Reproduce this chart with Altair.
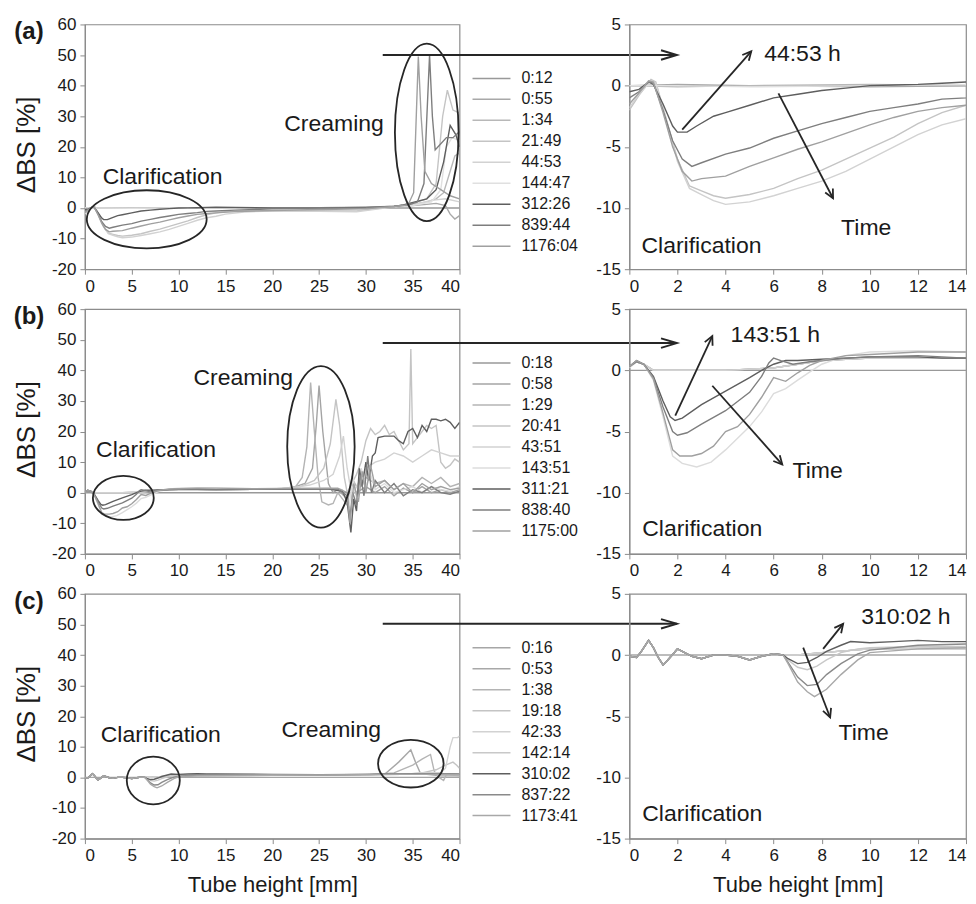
import math
import altair as alt
import pandas as pd

FONT = "Liberation Sans"
INK = "#1a1a1a"
FRAME = "#8c8c8c"
ANNOT = "#262626"

LW, LH = 375, 245
RW, RH = 337, 245
L_XDOM, L_YDOM = [0, 40], [-20, 60]
R_XDOM, R_YDOM = [0, 14], [-15, 5]
L_XTICKS = list(range(0, 41, 5))
L_YTICKS = list(range(-20, 61, 10))
R_XTICKS = list(range(0, 15, 2))
R_YTICKS = list(range(-15, 6, 5))
Y_TITLE = "ΔBS [%]"
X_TITLE = "Tube height [mm]"

# ---------------- Row (a) ----------------
A_LABELS = ["0:12", "0:55", "1:34", "21:49", "44:53", "144:47", "312:26", "839:44", "1176:04"]
A_COLORS = ["#999999", "#a8a8a8", "#b8b8b8", "#c4c4c4", "#d2d2d2", "#e0e0e0", "#5e5e5e", "#7e7e7e", "#a0a0a0"]

a_0012_x = [0, 5, 10, 20, 30, 40]
a_0012_y = [0, 0, 0, 0, 0, 0]
a_0055_x = [0, 2, 5, 10, 15, 20, 25, 30, 33, 35, 36.5, 37.5, 38.5, 39.0, 39.5, 40]
a_0055_y = [0, 0.1, 0, -0.1, 0, 0.1, 0.1, 0.2, 0.4, 0.8, 1.2, 1.5, 0.8, -2.0, -3.6, -2.5]
a_0134_x = [0, 2, 5, 10, 15, 20, 25, 30, 33, 35, 36.5, 37.5, 38.3, 39, 39.5, 40]
a_0134_y = [0, -0.1, 0, 0.1, 0, 0, 0.1, 0.3, 0.6, 1.2, 2.0, 3.0, 5.0, 12, 17, 18]
a_2149_x = [0, 0.4, 0.9, 1.1, 1.5, 2.0, 2.5, 3.0, 3.5, 4, 5, 6, 7, 8, 9, 10, 11, 12, 13, 14,
            15, 17, 20, 25, 29, 31, 33, 35, 36.5, 37.5, 38.2, 38.7, 39.3, 40]
a_2149_y = [-2.0, -0.8, 0.5, 0.3, -2.5, -6.0, -8.2, -8.6, -9.0, -9.2, -8.9, -8.4, -7.6, -6.9, -6.0,
            -5.1, -4.2, -3.1, -2.2, -1.6, -1.2, -1.0, -0.9, -0.9, -1.0, -0.3, 0.5, 1.5, 3, 8, 30, 38.5, 32, 31]
a_4453_x = [0, 0.4, 0.9, 1.1, 1.5, 2.0, 2.5, 3.0, 3.5, 4, 5, 6, 7, 8, 9, 10, 11, 12, 13, 14,
            15, 17, 20, 25, 29, 31, 33, 35, 37, 38.5, 40]
a_4453_y = [-1.8, -0.7, 0.4, 0.2, -2.5, -6.2, -8.4, -8.9, -9.4, -9.7, -9.5, -9.0, -8.4, -7.8, -7.0,
            -6.0, -5.0, -4.0, -3.2, -2.7, -2.0, -1.3, -1.0, -1.1, -1.2, -0.4, 0.4, 1.0, 2.5, 3.0, 2.0]
a_14447_x = [0, 2, 5, 10, 15, 20, 25, 30, 33, 35, 37, 38, 38.6, 39.2, 40]
a_14447_y = [0, 0, -0.1, 0, 0.1, 0, 0.1, 0.3, 0.5, 0.8, 2.0, 6.0, 20, 23, 22]
a_31226_x = [0, 0.4, 0.8, 1.0, 1.4, 1.8, 2.0, 2.4, 2.8, 3.5, 4, 5, 6, 7, 8, 9, 10, 11, 12, 13,
             14, 16, 20, 25, 30, 33, 34, 36.5, 37.5, 38.3, 39, 39.6, 40]
a_31226_y = [-0.5, -0.3, 0.3, 0.1, -1.5, -3.3, -3.8, -3.8, -3.3, -2.5, -2.2, -1.6, -1.0, -0.7, -0.4,
             -0.2, 0.0, 0.05, 0.1, 0.2, 0.3, 0.2, 0.0, 0.0, 0.2, 0.5, 1.0, 3, 6, 15, 27, 24, 20]
a_83944_x = [0, 0.4, 0.8, 1.0, 1.4, 1.8, 2.2, 2.6, 3, 4, 5, 6, 7, 8, 9, 10, 11, 12, 13, 14,
             16, 20, 25, 30, 33, 34.5, 35.5, 36.2, 36.8, 37.1, 37.4, 38, 38.6, 39.3, 40]
a_83944_y = [-1.0, -0.5, 0.3, 0.2, -2.0, -4.5, -6.0, -6.6, -6.3, -5.6, -5.1, -4.3, -3.7, -3.1, -2.6,
             -2.1, -1.8, -1.5, -1.1, -1.0, -0.7, -0.3, -0.1, 0.1, 0.6, 1.0, 2.0, 8, 50, 30, 19, 21, 23, 23, 25]
a_117604_x = [0, 0.4, 0.8, 1.0, 1.4, 1.8, 2.2, 2.6, 3, 4, 5, 6, 7, 8, 9, 10, 11, 12, 13, 14,
              16, 20, 25, 30, 33, 34.5, 35.1, 35.6, 35.9, 36.3, 37, 38, 39, 40]
a_117604_y = [-1.5, -0.6, 0.4, 0.3, -2.2, -5.0, -7.0, -7.8, -7.6, -7.4, -6.6, -5.9, -5.2, -4.6, -3.9,
              -3.2, -2.6, -2.1, -1.8, -1.6, -1.2, -0.8, -0.5, -0.3, 0.5, 1, 5, 49.5, 30, 12, 8, 6, 4, 3]

# ---------------- Row (b) ----------------
B_LABELS = ["0:18", "0:58", "1:29", "20:41", "43:51", "143:51", "311:21", "838:40", "1175:00"]
B_COLORS = ["#999999", "#a4a4a4", "#b4b4b4", "#c4c4c4", "#d2d2d2", "#dcdcdc", "#5e5e5e", "#7e7e7e", "#a0a0a0"]

b_0018_x = [0, 10, 20, 30, 40]
b_0018_y = [0, 0, 0, 0, 0]
b_0058_x = [0, 0.3, 0.6, 1, 2, 4, 6, 7, 8, 10, 14, 18, 22, 23.5, 24.3, 24.7, 25.0, 25.4, 26, 26.5,
            27, 28, 28.5, 29, 30, 31, 32, 33, 34, 35, 36, 37, 38, 39, 40]
b_0058_y = [0.3, 0.7, 0.5, 0, 0, 0, 0.2, 0.5, 0.8, 1.0, 1.0, 1.1, 1.5, 3, 8, 22, 35, 20, 3, 0,
            1, -2, 3, 0, 2, 0, 2, -1, 1.5, 0, 2, 0, 1, 0, 1]
b_0129_x = [0, 0.3, 0.6, 1, 2, 4, 6, 7, 8, 10, 14, 18, 21, 22.5, 23.2, 23.7, 24.1, 24.5, 24.9, 25.3,
            26, 26.5, 27, 27.5, 28, 28.5, 29, 30, 31, 32, 33, 34, 35, 36, 37, 38, 39, 40]
b_0129_y = [0.3, 0.7, 0.5, 0, 0, 0, 0.2, 0.5, 0.8, 1.0, 1.0, 1.1, 1.3, 2.0, 5, 15, 36, 20, 5, -3,
            -4, -3.5, 0, -2, -4, 5, 2, 5, 3, 4, 1, 3, 2, 5, 3, 5, 2, 3]
b_2041_x = [0, 0.3, 0.6, 1, 2, 4, 6, 7, 8, 10, 14, 18, 21, 23, 24.5, 25.5, 26.2, 26.8, 27.2, 27.7,
            28, 28.5, 29, 29.5, 30, 30.5, 31, 31.5, 32, 32.5, 33, 33.5, 34, 34.6, 34.8, 35.0, 35.5,
            36, 36.5, 37, 37.5, 38, 38.5, 39, 39.5, 40]
b_2041_y = [0.3, 0.7, 0.5, 0, 0, 0, 0.2, 0.5, 0.8, 1.0, 1.0, 1.1, 1.3, 2, 4, 8, 16, 30.5, 22, 5,
            0, 3, 6, 10, 17, 21, 19, 20, 22, 19, 20, 17, 14, 16, 47, 16, 18,
            20, 22, 21, 22, 10, 8, 9, 11, 10]
b_4351_x = [0, 0.3, 0.6, 1, 2, 4, 6, 7, 8, 10, 14, 18, 22, 24, 25.5, 26.5, 27.2, 27.6, 28, 28.5,
            29, 29.5, 30, 31, 32, 33, 34, 35, 36, 37, 38, 39, 40]
b_4351_y = [0.3, 0.7, 0.5, 0, 0, 0, 0.2, 0.5, 0.8, 1.0, 1.0, 1.1, 1.5, 2.5, 4, 6, 12, 18.5, 8, -1,
            2, 5, 8, 10, 11, 13, 12, 10, 12, 14, 13, 12, 12]
b_14351_x = [0, 0.3, 0.6, 1, 1.4, 1.8, 2.2, 2.8, 3.4, 4, 5, 5.5, 6, 6.5, 7, 7.6, 8, 9, 10, 12,
             14, 18, 22, 26, 27.5, 28.2, 28.6, 29, 29.5, 30, 30.5, 31, 32, 33, 34, 35, 36, 37, 38, 39, 40]
b_14351_y = [0.2, 0.7, 0.5, -0.8, -3.8, -7.0, -7.6, -7.9, -7.5, -6.5, -4.6, -3.4, -1.9, -1.5, -0.8, 0, 0.5, 1.2, 1.5, 1.6,
             1.5, 1.3, 1.4, 1.5, 1, -5, 5, -2, 8, 2, 6, 1, 3, 0, 1, 2, 0, 2, 1, 0.5, 2]
b_31121_x = [0, 0.3, 0.6, 1.0, 1.4, 1.7, 1.9, 2.2, 3, 4, 5, 5.5, 6, 6.5, 7, 8, 9, 10, 11, 12,
             13, 14, 18, 22, 26, 27.5, 28, 28.4, 28.7, 29, 29.3, 29.6, 30, 30.3, 30.7, 31, 31.3, 32,
             33, 33.5, 34, 34.5, 35, 35.5, 36, 36.5, 37, 37.5, 38, 38.5, 39, 39.5, 40]
b_31121_y = [0.3, 0.8, 0.5, -0.5, -2.5, -3.8, -4.1, -3.9, -2.8, -1.7, -0.6, 0, 0.5, 0.8, 0.8, 0.9, 1.0, 1.1, 1.1, 1.1,
             1.0, 1.0, 1.1, 1.2, 1.2, 0.5, -3, -13, -2, -6, 8, 2, 10, 4, 12, 13, 18, 18.5,
             18.5, 17, 16, 20, 21, 18, 22, 20, 24, 24, 23.5, 24, 23, 21, 23]
b_83840_x = [0, 0.3, 0.6, 1.0, 1.4, 1.8, 2.0, 2.4, 3, 4, 5, 5.5, 5.8, 6, 6.3, 6.8, 7.5, 8, 9, 10,
             12, 14, 18, 22, 27, 28, 28.3, 28.6, 29, 29.4, 29.8, 30.2, 30.6, 31, 32, 33, 34, 35, 36, 37, 38, 39, 40]
b_83840_y = [0.3, 0.7, 0.5, -0.6, -3, -5, -5.3, -5.1, -4.4, -3.3, -1.8, -0.5, 0.6, 1.0, 0.8, 0.5, 0.7, 0.8, 1.0, 1.1,
             1.2, 1.0, 1.1, 1.2, 1.2, -1, -8, 0, -4, 6, -1, 12, 0, 4, 0, 3, -1, 1, 0, 2, 0, -0.5, 0.5]
b_117500_x = [0, 0.3, 0.6, 1, 1.4, 1.8, 2.1, 2.6, 3, 3.5, 4, 4.5, 5, 5.5, 6, 6.5, 7, 7.5, 8, 9,
              10, 12, 14, 18, 22, 27, 28, 28.3, 28.7, 29.2, 29.6, 30, 30.5, 31, 32, 33, 34, 35, 36, 37, 38, 39, 40]
b_117500_y = [0.3, 0.8, 0.5, -0.7, -3.5, -6.5, -7.0, -7.0, -6.8, -6.2, -5.0, -4.6, -3.6, -2.2, -0.6, -0.9, -0.2, 0.4, 0.8, 1.2,
              1.3, 1.5, 1.5, 1.3, 1.4, 1.5, 0, -10, 3, -3, 7, 0, 9, 2, 4, 1, 3, 0, 3, 1, 2, 1, 1.5]

# ---------------- Row (c) ----------------
C_LABELS = ["0:16", "0:53", "1:38", "19:18", "42:33", "142:14", "310:02", "837:22", "1173:41"]
C_COLORS = ["#a6a6a6", "#a8a8a8", "#b4b4b4", "#c4c4c4", "#d2d2d2", "#c8c8c8", "#5e5e5e", "#8a8a8a", "#a8a8a8"]

c_early_x = [0, 0.3, 0.5, 0.8, 1.0, 1.2, 1.4, 1.6, 2.0, 2.2, 2.6, 3.0, 3.5, 4.0, 4.5, 5.0, 5.5, 6.0, 6.4]
c_early_y = [-0.1, -0.2, 0.3, 1.2, 0.6, -0.2, -0.8, -0.4, 0.5, 0.3, -0.1, -0.3, 0.0, 0.0, -0.1, -0.4, -0.1, 0.1, 0.0]

c_0016_x = [0, 10, 20, 30, 40]
c_0016_y = [0, 0, 0, 0, 0]
c_0053_tx = [7, 8, 10, 14, 20, 25, 30, 32, 33.5, 34.8, 35.3, 35.8, 36.5, 38, 40]
c_0053_ty = [0, 0.2, 0.5, 0.5, 0.7, 0.7, 0.8, 1.0, 5, 9, 5, 1.5, 1, 0.5, 0.5]
c_0138_tx = [7, 8, 10, 14, 20, 25, 30, 33, 35, 36, 36.9, 37.3, 37.8, 38.3, 38.6, 40]
c_0138_ty = [0, 0.2, 0.5, 0.6, 0.7, 0.8, 0.8, 1.5, 4, 6, 7.5, 2, 0, -1, 1, 0.5]
c_1918_tx = [7, 8, 10, 14, 20, 25, 30, 34, 36, 37.5, 38.5, 39.3, 39.7, 40]
c_1918_ty = [0, 0.2, 0.5, 0.6, 0.7, 0.8, 0.9, 1, 1.5, 2.5, 4, 5, 4, 3]
c_4233_tx = [7, 8, 10, 14, 20, 25, 30, 34, 36, 38, 38.5, 39, 39.3, 39.8, 40]
c_4233_ty = [0, 0.2, 0.5, 0.6, 0.7, 0.8, 0.9, 1, 1.5, 1.5, 3, 10, 13, 13, 13.5]
c_14214_tx = [6.6, 7, 7.4, 7.8, 8.2, 8.8, 9.5, 10, 12, 14, 20, 25, 30, 34, 38, 40]
c_14214_ty = [-0.4, -1.0, -1.2, -0.9, -0.4, 0.2, 0.5, 0.6, 0.7, 0.7, 0.8, 0.8, 0.9, 1.0, 1.1, 1.0]
c_31002_tx = [6.6, 7, 7.4, 7.8, 8.2, 8.8, 9.2, 10, 11, 12, 13, 14, 20, 25, 30, 34, 38, 40]
c_31002_ty = [-0.3, -0.7, -0.6, -0.2, 0.3, 0.8, 1.1, 1.0, 1.1, 1.2, 1.1, 1.1, 1.0, 0.9, 1.0, 1.1, 1.2, 1.0]
c_83722_tx = [6.6, 7, 7.4, 7.8, 8.2, 8.8, 9.5, 10, 12, 14, 20, 25, 30, 34, 38, 40]
c_83722_ty = [-0.6, -1.8, -2.5, -2.4, -1.6, -0.7, 0.1, 0.4, 0.8, 0.9, 0.9, 0.8, 1.0, 1.1, 1.2, 1.1]
c_117341_tx = [6.6, 7, 7.4, 7.7, 8.2, 8.8, 9.5, 10, 12, 14, 20, 25, 30, 34, 38, 40]
c_117341_ty = [-0.7, -2.2, -3.0, -3.4, -2.8, -1.6, -0.4, 0.2, 0.5, 0.6, 0.8, 0.8, 0.9, 1.0, 1.0, 0.9]

# ---------------- annotations (data units) ----------------
A_LTEXT = ["Clarification", "Creaming"]; A_LTEXT_X = [8.3, 26.6]; A_LTEXT_Y = [10, 27.3]
A_ELL_X = [6.6, 36.5]; A_ELL_Y = [-3.7, 24.7]; A_ELL_RX = [6.4, 3.4]; A_ELL_RY = [9.5, 29.0]
A_CROSS = [31.8, 63.2, 50.0]
A_RTEXT = ["44:53 h", "Time", "Clarification"]; A_RTEXT_X = [7.2, 9.85, 3.0]; A_RTEXT_Y = [2.55, -11.65, -13.1]
A_ARROWS = [(2.2, -3.6, 5.07, 2.8), (6.2, -0.63, 8.47, -9.2)]

B_LTEXT = ["Clarification", "Creaming"]; B_LTEXT_X = [7.6, 16.9]; B_LTEXT_Y = [14, 37.5]
B_ELL_X = [4.1, 25.2]; B_ELL_Y = [-1.7, 15.0]; B_ELL_RX = [3.25, 3.6]; B_ELL_RY = [7.2, 26.4]
B_CROSS = [31.8, 63.2, 48.9]
B_RTEXT = ["143:51 h", "Time", "Clarification"]; B_RTEXT_X = [6.07, 7.83, 3.03]; B_RTEXT_Y = [2.9, -8.25, -12.97]
B_ARROWS = [(1.91, -3.7, 3.45, 2.8), (3.45, -1.26, 6.36, -7.7)]

C_LTEXT = ["Clarification", "Creaming"]; C_LTEXT_X = [8.1, 26.3]; C_LTEXT_Y = [14, 15.6]
C_ELL_X = [7.3, 34.8]; C_ELL_Y = [-1.0, 4.5]; C_ELL_RX = [2.83, 3.5]; C_ELL_RY = [7.8, 7.8]
C_CROSS = [31.8, 63.2, 50.2]
C_RTEXT = ["310:02 h", "Time", "Clarification"]; C_RTEXT_X = [11.5, 9.74, 3.03]; C_RTEXT_Y = [3.1, -6.4, -12.96]
C_ARROWS = [(8.06, 0.5, 8.89, 2.55), (7.23, 0.6, 8.35, -5.1)]

KX_L = LW / (L_XDOM[1] - L_XDOM[0]); KY_L = LH / (L_YDOM[1] - L_YDOM[0])
KX_R = RW / (R_XDOM[1] - R_XDOM[0]); KY_R = RH / (R_YDOM[1] - R_YDOM[0])

HEAD_BIG = "M -1,-0.3 L 0,0 L -1,0.3"
HEAD_SMALL = "M -1,-0.5 L 0,0 L -1,0.5"


def series_frame(labels, xs_list, ys_list):
    rows = []
    for lab, xs, ys in zip(labels, xs_list, ys_list):
        assert len(xs) == len(ys), lab
        for x, y in zip(xs, ys):
            rows.append({"series": lab, "x": x, "y": y})
    return pd.DataFrame(rows)


def ax(values, title):
    return alt.Axis(values=values, title=title, labelExpr="'' + datum.value", labelFont=FONT,
                    labelFontSize=17, labelColor=INK, labelPadding=4, domainColor=FRAME, domainWidth=1.2,
                    tickColor=FRAME, tickSize=5, grid=False, titleFont=FONT, titleFontSize=22,
                    titleFontWeight="normal", titleColor=INK, titlePadding=11)


def ellipse_path(a, b):
    k = 0.5523
    f = lambda v: f"{v:.4f}"
    return (f"M {f(-a)},0 C {f(-a)},{f(-k*b)} {f(-k*a)},{f(-b)} 0,{f(-b)} "
            f"C {f(k*a)},{f(-b)} {f(a)},{f(-k*b)} {f(a)},0 "
            f"C {f(a)},{f(k*b)} {f(k*a)},{f(b)} 0,{f(b)} "
            f"C {f(-k*a)},{f(b)} {f(-a)},{f(k*b)} {f(-a)},0 Z")


def build_row(tag, labels, colors, df, lt, ltx, lty, ex, ey, erx, ery, cross,
              rt, rtx, rty, arrows, last):
    xt = X_TITLE if last else None
    XL = alt.X("x:Q", scale=alt.Scale(domain=L_XDOM, nice=False, zero=False), axis=ax(L_XTICKS, xt))
    YL = alt.Y("y:Q", scale=alt.Scale(domain=L_YDOM, nice=False, zero=False), axis=ax(L_YTICKS, None))
    XR = alt.X("x:Q", scale=alt.Scale(domain=R_XDOM, nice=False, zero=False), axis=ax(R_XTICKS, xt))
    YR = alt.Y("y:Q", scale=alt.Scale(domain=R_YDOM, nice=False, zero=False), axis=ax(R_YTICKS, None))

    legend = alt.Legend(title=None, orient="none", legendX=387, legendY=46, padding=0,
                        symbolType="stroke", symbolSize=1444, symbolStrokeWidth=1.5,
                        clipHeight=16, rowPadding=5, labelFont=FONT, labelFontSize=16,
                        labelColor=INK, labelOffset=10)
    cscale = alt.Scale(domain=labels, range=colors)

    lines_l = alt.Chart(df).mark_line(strokeWidth=1.4, clip=True).encode(
        x=XL, y=YL, color=alt.Color("series:N", scale=cscale, legend=legend))
    texts_l = alt.Chart(pd.DataFrame({"x": ltx, "y": lty, "t": lt})).mark_text(
        font=FONT, fontSize=23, color=INK, align="center", baseline="middle", clip=False
    ).encode(x=XL, y=YL, text="t:N")
    ells = []
    for x, y, rx, ry in zip(ex, ey, erx, ery):
        px, py = rx * KX_L, ry * KY_L
        m = max(px, py)
        ells.append(alt.Chart(pd.DataFrame({"x": [x], "y": [y]})).mark_point(
            shape=ellipse_path(px / m, py / m), size=(2 * m) ** 2, filled=False, color=ANNOT,
            strokeWidth=1.8, opacity=1, clip=False).encode(x=XL, y=YL))
    cross_df = pd.DataFrame({"x": [cross[0]], "x2": [cross[1]], "y": [cross[2]]})
    cross_rule = alt.Chart(cross_df).mark_rule(color=ANNOT, strokeWidth=2, clip=False).encode(
        x=XL, x2="x2:Q", y=YL)
    cross_head = alt.Chart(pd.DataFrame({"x": [cross[1]], "y": [cross[2]], "ang": [0]})).mark_point(
        shape=HEAD_BIG, size=1000, filled=False, color=ANNOT, strokeWidth=2, opacity=1, clip=False
    ).encode(x=XL, y=YL, angle=alt.Angle("ang:Q", scale=None))
    tag_l = alt.Chart(pd.DataFrame({"t": [tag]})).mark_text(
        font=FONT, fontSize=24, fontWeight="bold", color=INK, align="center", baseline="middle"
    ).encode(x=alt.value(-56), y=alt.value(8), text="t:N")
    ytitle = alt.Chart(pd.DataFrame({"t": [Y_TITLE]})).mark_text(
        font=FONT, fontSize=26, color=INK, align="center", baseline="middle", angle=270
    ).encode(x=alt.value(-58), y=alt.value(LH / 2 - 2), text="t:N")
    left = alt.layer(lines_l, *ells, texts_l, cross_rule, cross_head, tag_l, ytitle).properties(
        width=LW, height=LH)

    lines_r = alt.Chart(df).mark_line(strokeWidth=1.4, clip=True).encode(
        x=XR, y=YR, color=alt.Color("series:N", scale=cscale, legend=None))
    texts_r = alt.Chart(pd.DataFrame({"x": rtx, "y": rty, "t": rt})).mark_text(
        font=FONT, fontSize=23, color=INK, align="center", baseline="middle", clip=False
    ).encode(x=XR, y=YR, text="t:N")
    arr = pd.DataFrame(arrows, columns=["x", "y", "x2", "y2"])
    arr_rule = alt.Chart(arr).mark_rule(color=ANNOT, strokeWidth=1.8, clip=False).encode(
        x=XR, x2="x2:Q", y=YR, y2="y2:Q")
    heads = pd.DataFrame({
        "x": arr["x2"], "y": arr["y2"],
        "ang": [math.degrees(math.atan2(-(r.y2 - r.y) * KY_R, (r.x2 - r.x) * KX_R)) % 360
                for r in arr.itertuples()]})
    arr_head = alt.Chart(heads).mark_point(
        shape=HEAD_SMALL, size=300, filled=False, color=ANNOT, strokeWidth=1.8, opacity=1, clip=False
    ).encode(x=XR, y=YR, angle=alt.Angle("ang:Q", scale=None))
    right = alt.layer(lines_r, texts_r, arr_rule, arr_head).properties(width=RW, height=RH)
    return [left, right]


df_a = series_frame(A_LABELS,
                    [a_0012_x, a_0055_x, a_0134_x, a_2149_x, a_4453_x, a_14447_x, a_31226_x, a_83944_x, a_117604_x],
                    [a_0012_y, a_0055_y, a_0134_y, a_2149_y, a_4453_y, a_14447_y, a_31226_y, a_83944_y, a_117604_y])
df_b = series_frame(B_LABELS,
                    [b_0018_x, b_0058_x, b_0129_x, b_2041_x, b_4351_x, b_14351_x, b_31121_x, b_83840_x, b_117500_x],
                    [b_0018_y, b_0058_y, b_0129_y, b_2041_y, b_4351_y, b_14351_y, b_31121_y, b_83840_y, b_117500_y])
c_tails_x = [c_0053_tx, c_0138_tx, c_1918_tx, c_4233_tx, c_14214_tx, c_31002_tx, c_83722_tx, c_117341_tx]
c_tails_y = [c_0053_ty, c_0138_ty, c_1918_ty, c_4233_ty, c_14214_ty, c_31002_ty, c_83722_ty, c_117341_ty]
df_c = series_frame(C_LABELS,
                    [c_0016_x] + [c_early_x + t for t in c_tails_x],
                    [c_0016_y] + [c_early_y + t for t in c_tails_y])

row_a = build_row("(a)", A_LABELS, A_COLORS, df_a, A_LTEXT, A_LTEXT_X, A_LTEXT_Y, A_ELL_X, A_ELL_Y,
                  A_ELL_RX, A_ELL_RY, A_CROSS, A_RTEXT, A_RTEXT_X, A_RTEXT_Y, A_ARROWS, False)
row_b = build_row("(b)", B_LABELS, B_COLORS, df_b, B_LTEXT, B_LTEXT_X, B_LTEXT_Y, B_ELL_X, B_ELL_Y,
                  B_ELL_RX, B_ELL_RY, B_CROSS, B_RTEXT, B_RTEXT_X, B_RTEXT_Y, B_ARROWS, False)
row_c = build_row("(c)", C_LABELS, C_COLORS, df_c, C_LTEXT, C_LTEXT_X, C_LTEXT_Y, C_ELL_X, C_ELL_Y,
                  C_ELL_RX, C_ELL_RY, C_CROSS, C_RTEXT, C_RTEXT_X, C_RTEXT_Y, C_ARROWS, True)

chart = alt.concat(*row_a, *row_b, *row_c, columns=2, bounds="flush",
                   spacing={"row": 40, "column": 170}).resolve_scale(
    x="independent", y="independent", color="independent"
).properties(
    padding={"left": 5, "top": 6, "right": 0, "bottom": 0}, background="white"
).configure_view(stroke=FRAME, strokeWidth=1.2)

chart.save("out.html", embed_options={"renderer": "svg", "actions": False})
